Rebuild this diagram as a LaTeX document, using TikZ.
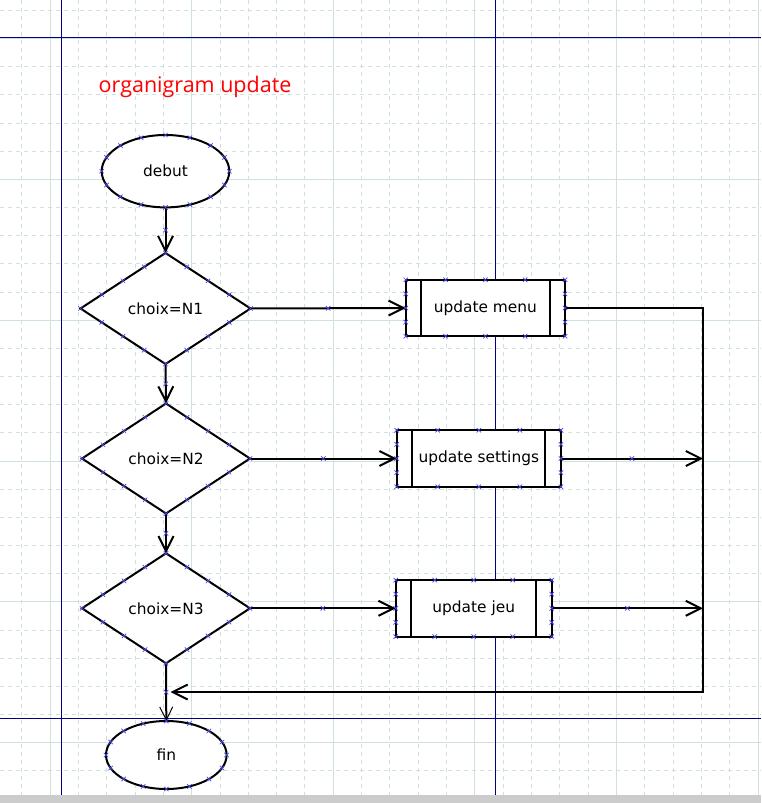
\documentclass[tikz,border=0pt]{standalone}
\usepackage{fontspec}
\setmainfont{DejaVu Sans}
\newfontfamily\titlefont{Open Sans}
\usetikzlibrary{shapes.geometric,arrows.meta,calc}
\definecolor{gridc}{RGB}{208,224,222}
\definecolor{navyc}{RGB}{0,0,128}
\definecolor{markc}{RGB}{70,70,230}
\definecolor{barc}{RGB}{204,204,204}
\tikzset{
  mk/.pic={\draw[markc,line width=.7pt] (-2.2,-2.2)--(2.2,2.2) (-2.2,2.2)--(2.2,-2.2);},
}
\newcommand\ellmarks[3]{%
  \foreach \a in {0,22.5,...,337.5}{\pic at ($(#1.center)+({#2*cos(\a)},{#3*sin(\a)})$) {mk};}}
\newcommand\diamarks[1]{%
  \foreach \p/\q in {north/east,east/south,south/west,west/north}{%
    \foreach \t in {0,0.25,0.5,0.75}{\pic at ($(#1.\p)!\t!(#1.\q)$) {mk};}}}
\newcommand\boxmarks[1]{%
  \foreach \p/\q in {north west/north east,north east/south east,south east/south west,south west/north west}{%
    \foreach \t in {0,0.25,0.5,0.75}{\pic at ($(#1.\p)!\t!(#1.\q)$) {mk};}}}
\newcommand\procbars[1]{%
  \draw[line width=2pt] ($(#1.north west)+(15.5,0)$) -- ($(#1.south west)+(15.5,0)$);
  \draw[line width=2pt] ($(#1.north east)+(-15.5,0)$) -- ($(#1.south east)+(-15.5,0)$);}
\newcommand\midmark[2]{\pic at ($(#1)!0.5!(#2)$) {mk};}
\begin{document}
\begin{tikzpicture}[x=1pt,y=-1pt,
  shp/.style={draw=black,line width=2pt,fill=white,inner sep=0pt,outer sep=0pt,
    font=\fontsize{15.4}{18}\selectfont},
  term/.style={shp,ellipse},
  dec/.style={shp,diamond,aspect=1.53,minimum width=170pt,minimum height=111pt},
  proc/.style={shp,rectangle,minimum height=56.5pt},
  conn/.style={line width=2pt,-{Straight Barb[length=15pt,width=15pt]}},
  thinconn/.style={line width=2pt,-{Straight Barb[length=13pt,width=13pt,line width=1pt]}},
  line/.style={line width=2pt},
]
\useasboundingbox (0,0) rectangle (761,803);
% grid
\begin{scope}
\clip (0,0) rectangle (761,795);
\foreach \k in {-2,...,26}{
  \pgfmathsetmacro\gx{50+28.32*\k}
  \pgfmathtruncatemacro\gm{mod(\k+10,5)}
  \ifnum\gm=0 \draw[gridc,line width=.8pt] (\gx,0) -- (\gx,795);
  \else \draw[gridc,line width=.8pt,dash pattern=on 4pt off 4pt] (\gx,0) -- (\gx,795);\fi
}
\foreach \k in {-7,...,23}{
  \pgfmathsetmacro\gy{179.3+28.17*\k}
  \pgfmathtruncatemacro\gm{mod(\k+10,5)}
  \ifnum\gm=0 \draw[gridc,line width=.8pt] (0,\gy) -- (761,\gy);
  \else \draw[gridc,line width=.8pt,dash pattern=on 4pt off 4pt] (0,\gy) -- (761,\gy);\fi
}
\end{scope}
% navy guide lines
\draw[navyc,line width=1pt] (61.3,0) -- (61.3,795);
\draw[navyc,line width=1pt] (495.3,0) -- (495.3,795);
\draw[navyc,line width=1pt] (0,37.3) -- (761,37.3);
\draw[navyc,line width=1pt] (0,718.3) -- (761,718.3);
\fill[barc] (0,795) rectangle (761,803);
% title
\node[anchor=base west,text=red,inner sep=0pt,font=\titlefont\fontsize{21.5}{24}\selectfont] (title) at (98.5,92.7) {organigram update};
% nodes
\node[term,minimum width=127.6pt,minimum height=72.4pt] (debut) at (165.5,171.2) {debut};
\node[dec] (d1) at (165.5,308.5) {choix=N1};
\node[dec,minimum width=168pt,minimum height=110pt] (d2) at (166,458.5) {choix=N2};
\node[dec,minimum width=168pt,minimum height=110pt] (d3) at (166,608.3) {choix=N3};
\node[term,minimum width=120.6pt,minimum height=68pt] (fin) at (166.3,755) {fin};
\node[proc,minimum width=159.3pt] (menu) at (485.4,308) {update menu};
\node[proc,minimum width=164.3pt] (set) at (478.8,458.5) {update settings};
\node[proc,minimum width=156pt] (jeu) at (473.7,608.3) {update jeu};
\procbars{menu}
\procbars{set}
\procbars{jeu}
% free ends
\coordinate (rtop) at (703,308);
\coordinate (rbot) at (703,692);
\coordinate (ret) at (170.5,692);
\coordinate (r2) at (703,458.5);
\coordinate (r3) at (703,608.3);
% connectors
\draw[conn] (debut.south) -- (d1.north);
\draw[conn] (d1.south) -- (d2.north);
\draw[conn] (d2.south) -- (d3.north);
\draw[thinconn] (d3.south) -- (fin.north);
\draw[conn] (d1.east) -- (menu.west);
\draw[conn] (d2.east) -- (set.west);
\draw[conn] (d3.east) -- (jeu.west);
\draw[conn] (set.east) -- (r2);
\draw[conn] (jeu.east) -- (r3);
\draw[conn] (menu.east) -- (rtop) -- (rbot) -- (ret);
% editor marks
\ellmarks{debut}{63.8}{36.2}
\ellmarks{fin}{60.3}{34}
\diamarks{d1}
\diamarks{d2}
\diamarks{d3}
\boxmarks{menu}
\boxmarks{set}
\boxmarks{jeu}
\midmark{debut.south}{d1.north}
\midmark{d1.south}{d2.north}
\midmark{d2.south}{d3.north}
\midmark{d3.south}{fin.north}
\midmark{d1.east}{menu.west}
\midmark{d2.east}{set.west}
\midmark{d3.east}{jeu.west}
\midmark{set.east}{r2}
\midmark{jeu.east}{r3}
\end{tikzpicture}
\end{document}
